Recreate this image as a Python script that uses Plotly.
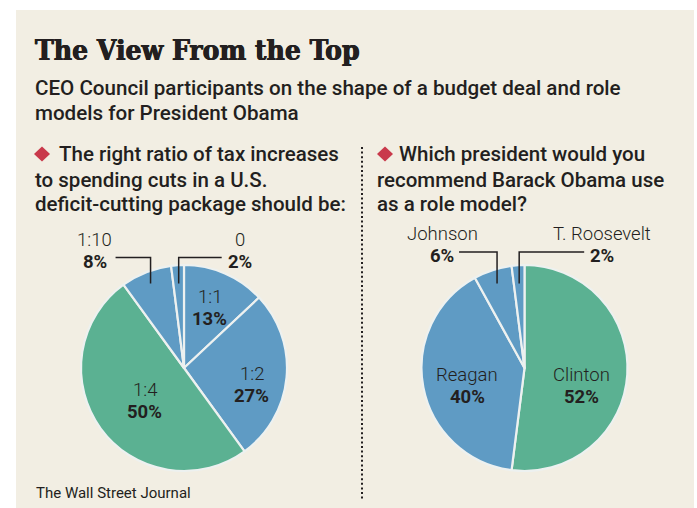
import math
import plotly.graph_objects as go

W, H = 697, 508

# Question 1: right ratio of tax increases to spending cuts
ratio_labels = ["1:1", "1:2", "1:4", "1:10", "0"]
ratio_values = [13, 27, 50, 8, 2]

# Question 2: president recommended as a role model
president_labels = ["Clinton", "Reagan", "Johnson", "T. Roosevelt"]
president_values = [52, 40, 6, 2]

title_text = "The View From the Top"
subtitle_lines = [
    "CEO Council participants on the shape of a budget deal and role",
    "models for President Obama",
]
left_question = [
    "The right ratio of tax increases",
    "to spending cuts in a U.S.",
    "deficit-cutting package should be:",
]
right_question = [
    "Which president would you",
    "recommend Barack Obama use",
    "as a role model?",
]
source_text = "The Wall Street Journal"

# ---- styling ----
BLUE = "#5f9bc4"
GREEN = "#5bb192"
INK = "#231f20"
PANEL = "#f2eee3"
RED = "#c9394b"
SANS = "Roboto"
SERIF = "DejaVu Serif Condensed"

ratio_colors = [BLUE, BLUE, GREEN, BLUE, BLUE]
president_colors = [GREEN, BLUE, BLUE, BLUE]

R = 103  # pie radius in px
PIE1_C = (184.0, 368.0)
PIE2_C = (524.5, 368.0)

# inside label placement: (radius fraction, angle shift deg)
inside_place = {
    "1:1": (0.63, 0.0),
    "1:2": (0.68, 8.6),
    "1:4": (0.50, -4.0),
    "Clinton": (0.58, 14.0),
    "Reagan": (0.58, -6.6),
}
# outside label placement: (horizontal leg px, signed; label offset from leg end px)
outside_place = {
    "1:10": (-35, -21),
    "0": (43, 18),
    "Johnson": (-38, -17),
    "T. Roosevelt": (65, 18),
}
elbow_rise = {1: 110.5, 2: 116}   # elbow height above pie centre


def fx(x):
    return x / W


def fy(y):
    return 1 - y / H


def mid_angles(values):
    total = float(sum(values))
    out, cum = [], 0.0
    for v in values:
        out.append(360.0 * (cum + v / 2.0) / total)
        cum += v
    return out


fig = go.Figure()
annotations = []
shapes = []

# background panel
shapes.append(dict(type="rect", xref="paper", yref="paper",
                   x0=fx(16), x1=fx(694), y0=fy(508), y1=fy(10),
                   fillcolor=PANEL, line=dict(width=0), layer="below"))


def add_pie(labels, values, colors, center, which):
    cx, cy = center
    fig.add_trace(go.Pie(
        labels=labels, values=values, sort=False, direction="clockwise",
        rotation=0, textinfo="none", hoverinfo="label+percent",
        marker=dict(colors=colors, line=dict(color="#edf1f0", width=2.2)),
        domain=dict(x=[fx(cx - R), fx(cx + R)], y=[fy(cy + R), fy(cy - R)]),
        showlegend=False,
    ))
    for lab, val, ang in zip(labels, values, mid_angles(values)):
        if lab in inside_place:
            rf, da = inside_place[lab]
            a = math.radians(ang + da)
            lx = cx + rf * R * math.sin(a)
            ly = cy - rf * R * math.cos(a)
            annotations.append(dict(x=fx(lx), y=fy(ly - 11), text=lab,
                                    font=dict(family=SANS, size=18.5, color=INK, weight=300)))
            annotations.append(dict(x=fx(lx), y=fy(ly + 11), text=f"{val}%",
                                    font=dict(family=SANS, size=18.5, color=INK, weight=700)))
        else:
            leg, off = outside_place[lab]
            a = math.radians(ang)
            # leader starts inside the slice, rises vertically, then runs sideways
            sy = cy - 0.82 * R
            sx = cx + 0.82 * R * math.tan(a)
            ey = cy - elbow_rise[which]
            hx = sx + leg
            shapes.append(dict(type="path", xref="paper", yref="paper",
                               path=f"M {fx(sx)},{fy(sy)} L {fx(sx)},{fy(ey)} L {fx(hx)},{fy(ey)}",
                               line=dict(color=INK, width=1.5)))
            tx = hx + off
            annotations.append(dict(x=fx(tx), y=fy(ey - 18), text=lab,
                                    font=dict(family=SANS, size=18.5, color=INK, weight=300)))
            annotations.append(dict(x=fx(tx), y=fy(ey + 4), text=f"{val}%",
                                    font=dict(family=SANS, size=18.5, color=INK, weight=700)))


add_pie(ratio_labels, ratio_values, ratio_colors, PIE1_C, 1)
add_pie(president_labels, president_values, president_colors, PIE2_C, 2)

# title block
annotations.append(dict(x=fx(33), y=fy(50.5), text=title_text, xanchor="left",
                        font=dict(family=SERIF, size=28, color=INK, weight=700,
                                  shadow=f"0.5px 0 0 {INK}, -0.4px 0 0 {INK}")))
for i, line in enumerate(subtitle_lines):
    annotations.append(dict(x=fx(33), y=fy(87.5 + 25 * i), text=line, xanchor="left",
                            font=dict(family=SANS, size=20.6, color=INK, weight=500)))

# question headers with red diamond bullets
q_rows = [154, 179.5, 204.5]
for col, lines in ((0, left_question), (1, right_question)):
    x_left = 33 if col == 0 else 375
    x_first = 57 if col == 0 else 397
    dcx = 42 if col == 0 else 385
    shapes.append(dict(type="path", xref="paper", yref="paper",
                       path=(f"M {fx(dcx - 8)},{fy(q_rows[0])} L {fx(dcx)},{fy(q_rows[0] - 7.5)} "
                             f"L {fx(dcx + 8)},{fy(q_rows[0])} L {fx(dcx)},{fy(q_rows[0] + 7.5)} Z"),
                       fillcolor=RED, line=dict(width=0)))
    for i, line in enumerate(lines):
        annotations.append(dict(x=fx(x_first if i == 0 else x_left), y=fy(q_rows[i]),
                                text=line, xanchor="left",
                                font=dict(family=SANS, size=20.5, color=INK, weight=500)))

# dotted divider between the two questions
shapes.append(dict(type="line", xref="paper", yref="paper",
                   x0=fx(362), x1=fx(362), y0=fy(147), y1=fy(500),
                   line=dict(color=INK, width=2, dash="2px,2.6px")))

# source line
annotations.append(dict(x=fx(34), y=fy(493), text=source_text, xanchor="left",
                        font=dict(family=SANS, size=15, color=INK)))

for a in annotations:
    a.setdefault("xref", "paper")
    a.setdefault("yref", "paper")
    a.setdefault("showarrow", False)
    a.setdefault("yanchor", "middle")
    a.setdefault("xanchor", "center")

fig.update_layout(
    width=W, height=H,
    margin=dict(l=0, r=0, t=0, b=0),
    paper_bgcolor="white", plot_bgcolor="white",
    annotations=annotations, shapes=shapes,
)

fig.write_html("out.html")
